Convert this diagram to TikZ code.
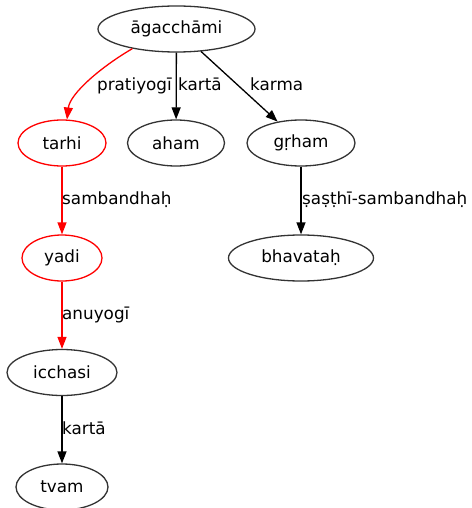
\documentclass[tikz,border=0pt]{standalone}
\usepackage{fontspec}
\setmainfont{DejaVu Sans}
\usetikzlibrary{shapes.geometric,arrows.meta}
\definecolor{edgegray}{HTML}{333333}
\begin{document}
\begin{tikzpicture}[x=1pt,y=-1pt,
  nd/.style={ellipse,draw=edgegray,line width=1.3pt,inner sep=0pt,minimum height=46pt,font=\fontsize{16.8}{19}\selectfont},
  rnd/.style={nd,draw=red},
  ed/.style={draw=black,line width=1.3pt,-{Triangle[length=12pt,width=9pt]}},
  red/.style={ed,draw=red,-{Triangle[length=12pt,width=9pt,fill=red]},color=red},
  lbl/.style={inner sep=0pt,font=\fontsize{16.8}{19}\selectfont,anchor=base west}
]
\useasboundingbox (0,0) rectangle (471,508);
\node[nd,minimum width=157pt] (a) at (176.5,29) {āgacchāmi};
\node[rnd,minimum width=88pt] (t) at (62,143) {tarhi};
\node[nd,minimum width=97pt] (h) at (176,143) {aham};
\node[nd,minimum width=108pt] (g) at (301,143) {gṛham};
\node[rnd,minimum width=80pt] (y) at (62,258) {yadi};
\node[nd,minimum width=145pt] (b) at (301,258) {bhavataḥ};
\node[nd,minimum width=110pt] (i) at (62,372.5) {icchasi};
\node[nd,minimum width=92pt] (v) at (62,487) {tvam};

\draw[red] (a.204) .. controls +(-31,18) and +(3,-26) .. (t.78);
\draw[ed] (a) -- (h);
\draw[ed] (a) -- (g);
\draw[red] (t) -- (y);
\draw[ed] (g) -- (b);
\draw[red] (y) -- (i);
\draw[ed] (i) -- (v);

\node[lbl,anchor=base east] (l1) at (172,91) {pratiyogī};
\node[lbl] (l2) at (178,91) {kartā};
\node[lbl] (l3) at (250,91) {karma};
\node[lbl] (l4) at (62,204) {sambandhaḥ};
\node[lbl] (l5) at (302,204) {ṣaṣṭhī-sambandhaḥ};
\node[lbl] (l6) at (62,319) {anuyogī};
\node[lbl] (l7) at (62,434) {kartā};
\end{tikzpicture}
\end{document}
